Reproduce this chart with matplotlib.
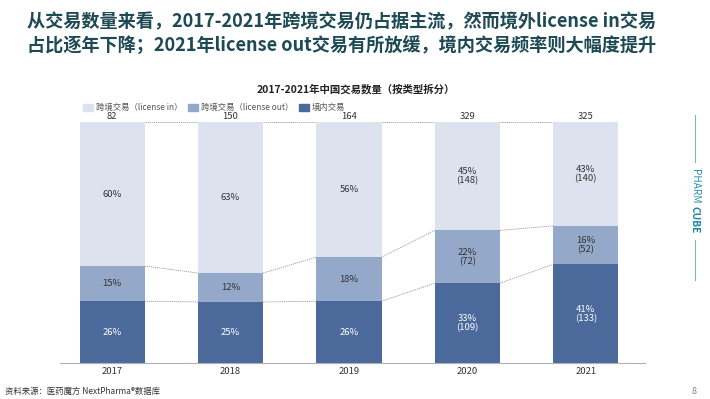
import matplotlib.pyplot as plt
import numpy as np
from matplotlib.patches import Rectangle

plt.rcParams['font.family'] = ['Noto Sans CJK SC', 'DejaVu Sans']

# data (deal counts per year)
years = ['2017', '2018', '2019', '2020', '2021']
domestic = [21, 38, 42, 109, 133]
lic_out = [12, 18, 30, 72, 52]
lic_in = [49, 94, 92, 148, 140]
show_counts = [False, False, False, True, True]

series_names = ['跨境交易（license in）', '跨境交易（license out）', '境内交易']
colors = ['#dde3ee', '#94a8c9', '#4b6a9b']

totals = np.array(domestic) + np.array(lic_out) + np.array(lic_in)
stack = [np.array(domestic) / totals, np.array(lic_out) / totals, np.array(lic_in) / totals]
counts = [domestic, lic_out, lic_in]
label_colors = ['white', '#333333', '#333333']
seg_colors = [colors[2], colors[1], colors[0]]

fig = plt.figure(figsize=(7.1, 3.99), dpi=100)

# title
fig.text(0.481, 0.944, '从交易数量来看，2017-2021年跨境交易仍占据主流，然而境外license in交易',
         ha='center', va='center', fontsize=13.1, fontweight='bold', color='#1d4a55')
fig.text(0.481, 0.884, '占比逐年下降；2021年license out交易有所放缓，境内交易频率则大幅度提升',
         ha='center', va='center', fontsize=13.1, fontweight='bold', color='#1d4a55')

fig.text(356 / 710, (399 - 89) / 399, '2017-2021年中国交易数量（按类型拆分）', ha='center', va='center',
         fontsize=7.5, fontweight='bold', color='#222222')

ax = fig.add_axes([60 / 710, 36 / 399, 585 / 710, 241 / 399])
x = np.arange(len(years))
width = 0.55
bottom = np.zeros(len(years))
for k in range(3):
    ax.bar(x, stack[k], width, bottom=bottom, color=seg_colors[k], edgecolor='none', zorder=2)
    for i in range(len(years)):
        txt = '%d%%' % round(stack[k][i] * 100)
        if show_counts[i]:
            txt += '\n(%d)' % counts[k][i]
        ax.text(x[i], bottom[i] + stack[k][i] / 2, txt, ha='center', va='center',
                fontsize=6.8, color=label_colors[k], linespacing=1.0, zorder=3)
    bottom = bottom + stack[k]
    # connector lines between bars
    for i in range(len(years) - 1):
        ax.plot([x[i] + width / 2, x[i + 1] - width / 2], [bottom[i], bottom[i + 1]],
                color='#999999', lw=0.6, ls=(0, (1.5, 1)), zorder=1)

for i in range(len(years)):
    ax.text(x[i], 1.022, str(totals[i]), ha='center', va='center', fontsize=6.8, color='#333333',
            clip_on=False)

ax.set_xlim(-0.44, 4.5)
ax.set_ylim(0, 1)
ax.set_xticks(x)
ax.set_xticklabels(years, fontsize=6.8, color='#333333')
ax.tick_params(axis='x', length=0, pad=3)
ax.set_yticks([])
for s in ['top', 'right', 'left']:
    ax.spines[s].set_visible(False)
ax.spines['bottom'].set_color('#b0b0b0')
ax.spines['bottom'].set_linewidth(0.8)

# legend
leg_x = [83, 188, 299]
leg_y = 399 - 107
for k in range(3):
    fig.patches.append(Rectangle((leg_x[k] / 710, (leg_y - 3.5) / 399), 10 / 710, 7 / 399,
                                 transform=fig.transFigure, color=colors[k]))
    fig.text((leg_x[k] + 13) / 710, leg_y / 399, series_names[k], ha='left', va='center',
             fontsize=6.0, color='#555555')

# right brand strip
fig.add_artist(plt.Line2D([695 / 710, 695 / 710], [(399 - 115) / 399, (399 - 162) / 399],
                          color='#7fb3bf', lw=0.8))
fig.add_artist(plt.Line2D([695 / 710, 695 / 710], [(399 - 240) / 399, (399 - 280) / 399],
                          color='#7fb3bf', lw=0.8))
fig.text(695 / 710, (399 - 186) / 399, 'PHARM', rotation=-90, ha='center', va='center',
         fontsize=7.3, color='#2a8fb0')
fig.text(695 / 710, (399 - 220) / 399, 'CUBE', rotation=-90, ha='center', va='center',
         fontsize=7.3, fontweight='bold', color='#1f86a8')

# footer
fig.text(5 / 710, 8 / 399, '资料来源：医药魔方 NextPharma®数据库', ha='left', va='center',
         fontsize=6, color='#333333')
fig.text(694 / 710, 8 / 399, '8', ha='center', va='center', fontsize=6.5, color='#888888')

fig.savefig('out.png', dpi=100)
